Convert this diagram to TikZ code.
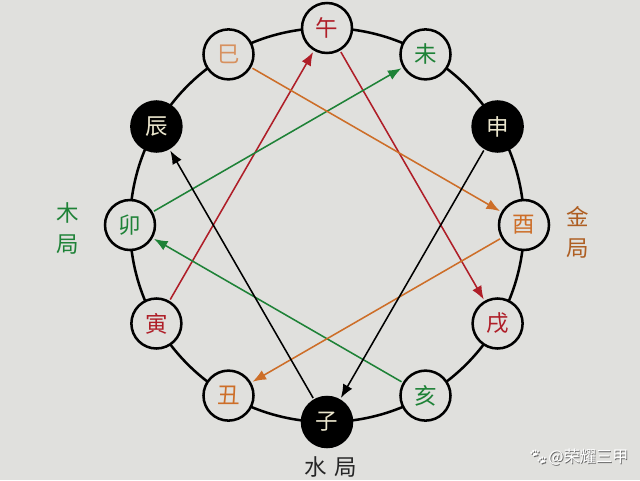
\documentclass[tikz,border=0pt]{standalone}
\usepackage{fontspec}
\setmainfont{Noto Sans CJK SC}
\newfontfamily\emojifont{Noto Emoji}
\usepackage{tikz}
\usetikzlibrary{arrows,arrows.meta,positioning,calc}
\usepackage{xcolor}
\definecolor{paper}{RGB}{224,224,221}
\definecolor{huored}{RGB}{175,30,40}
\definecolor{mugreen}{RGB}{30,130,55}
\definecolor{jinorange}{RGB}{205,110,40}
\definecolor{siorange}{RGB}{215,145,95}
\definecolor{cream}{RGB}{235,230,205}

\begin{document}
\begin{tikzpicture}[
            >={Latex[length=3.4mm,width=2.6mm]},
            branch/.style={circle,draw=black,line width=1.8pt,fill=paper,minimum size=1.25cm,inner sep=0pt,font=\fontsize{16}{18}\selectfont},
            dark/.style={branch,fill=black,text=cream},
            ju/.style={font=\fontsize{16}{22}\selectfont,align=center},
            link/.style={->,line width=1.1pt,shorten >=1pt,shorten <=1pt}
        ]
            \fill[paper] (-8.175,-6.375) rectangle (7.825,5.625);
            \clip (-8.175,-6.375) rectangle (7.825,5.625);
            \coordinate (centre) at (0,0);
            \draw[line width=1.8pt] (centre) circle (4.925);

            % twelve branches
            \node[branch,text=huored] (wu) at (90:4.925) {午};
            \node[branch,text=mugreen] (wei) at (60:4.925) {未};
            \node[dark] (shen) at (30:4.925) {申};
            \node[branch,text=jinorange] (you) at (0:4.925) {酉};
            \node[branch,text=huored] (xu) at (-30:4.925) {戌};
            \node[branch,text=mugreen] (hai) at (-60:4.925) {亥};
            \node[dark] (zi) at (-90:4.925) {子};
            \node[branch,text=jinorange] (chou) at (-120:4.925) {丑};
            \node[branch,text=huored] (yin) at (-150:4.925) {寅};
            \node[branch,text=mugreen] (mao) at (180:4.925) {卯};
            \node[dark] (chen) at (150:4.925) {辰};
            \node[branch,text=siorange] (si) at (120:4.925) {巳};

            % fire
            \draw[link,huored] (yin) -- (wu);
            \draw[link,huored] (wu) -- (xu);
            % wood
            \draw[link,mugreen] (mao) -- (wei);
            \draw[link,mugreen] (hai) -- (mao);
            % metal
            \draw[link,jinorange] (si) -- (you);
            \draw[link,jinorange] (you) -- (chou);
            % water
            \draw[link,black] (shen) -- (zi);
            \draw[link,black] (zi) -- (chen);

            % labels
            \node[ju,text=mugreen] (mulabel) at (-6.475,-0.075) {木\\局};
            \node[ju,text=jinorange!85!black] (jinlabel) at (6.275,-0.175) {金\\局};
            \node[ju,text=black!85] (shuilabel) at (0.1,-6.05) {水\hspace{0.35em}局};
            \node[text=black!60,font=\fontsize{11.5}{13}\selectfont] (markshadow) at (6.3,-5.82) {{\emojifont 🐾}@荣耀三甲};
            \node[text=white,font=\fontsize{11.5}{13}\selectfont] (mark) at (6.28,-5.8) {{\emojifont 🐾}@荣耀三甲};
        \end{tikzpicture}
\end{document}
